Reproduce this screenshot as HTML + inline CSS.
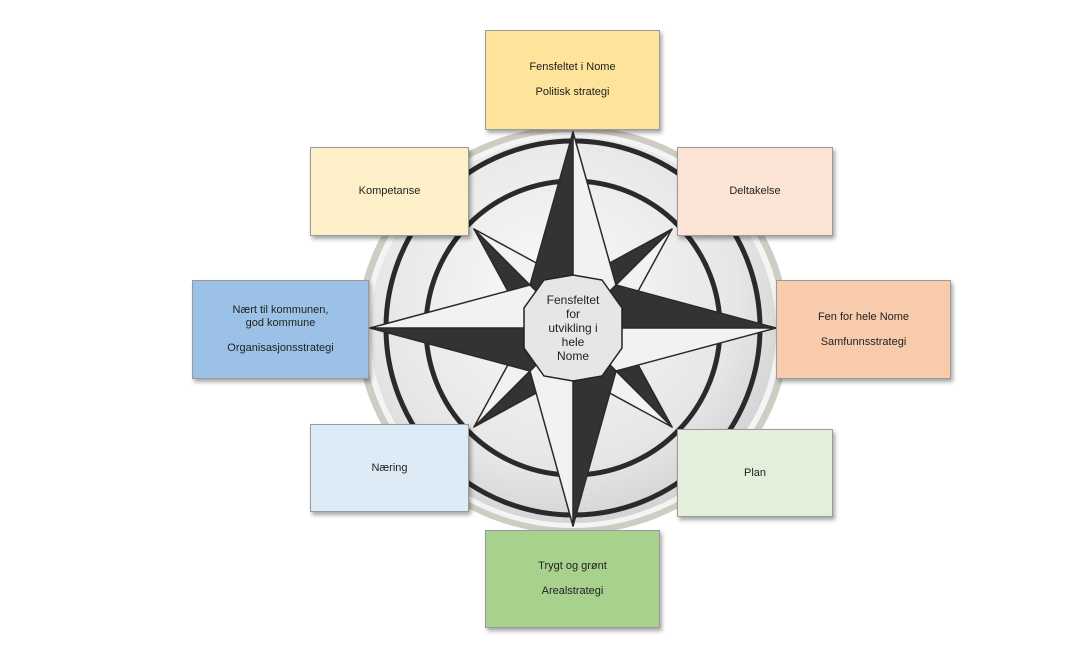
<!DOCTYPE html>
<html><head><meta charset="utf-8"><style>
body{margin:0;background:#fff;width:1082px;height:652px;overflow:hidden;position:relative;font-family:"Liberation Sans",sans-serif}
.b{position:absolute;box-sizing:border-box;border:1px solid #9a9a9a;box-shadow:2px 3px 4px rgba(0,0,0,.35);display:flex;flex-direction:column;align-items:center;justify-content:center;text-align:center;font-size:11px;color:#222;line-height:13px}
.b p{margin:0}
</style></head><body>
<svg width="1082" height="652" style="position:absolute;left:0;top:0">
<defs>
<radialGradient id="g" cx="45%" cy="40%" r="65%"><stop offset="0" stop-color="#fafafa"/><stop offset=".7" stop-color="#e6e6e6"/><stop offset="1" stop-color="#cfcfcf"/></radialGradient>
</defs>
<ellipse cx="573" cy="330" rx="216" ry="204" fill="#cfccc4"/>
<ellipse cx="573" cy="330" rx="209" ry="198" fill="#f4f4f4"/>
<ellipse cx="573" cy="330" rx="203" ry="193" fill="url(#g)"/>
<circle cx="573" cy="328" r="187" fill="none" stroke="#2a2a2a" stroke-width="5"/>
<circle cx="573" cy="328" r="147" fill="none" stroke="#2a2a2a" stroke-width="5"/>
<g stroke="#2a2a2a" stroke-width="1.5" stroke-linejoin="round">
<polygon points="672,229 573,328 573,283" fill="#333"/><polygon points="672,229 573,328 618,328" fill="#f2f2f2"/>
<polygon points="672,427 573,328 618,328" fill="#333"/><polygon points="672,427 573,328 573,373" fill="#f2f2f2"/>
<polygon points="474,427 573,328 573,373" fill="#333"/><polygon points="474,427 573,328 528,328" fill="#f2f2f2"/>
<polygon points="474,229 573,328 528,328" fill="#333"/><polygon points="474,229 573,328 573,283" fill="#f2f2f2"/>
<polygon points="573,132 573,328 530,285" fill="#333"/><polygon points="573,132 573,328 616,285" fill="#f2f2f2"/>
<polygon points="776,328 573,328 616,285" fill="#333"/><polygon points="776,328 573,328 616,371" fill="#f2f2f2"/>
<polygon points="573,526 573,328 616,371" fill="#333"/><polygon points="573,526 573,328 530,371" fill="#f2f2f2"/>
<polygon points="370,328 573,328 530,371" fill="#333"/><polygon points="370,328 573,328 530,285" fill="#f2f2f2"/>
</g>
<polygon points="622,308 602,280 573,275 544,280 524,308 524,348 544,376 573,381 602,376 622,348" fill="#e6e6e6" stroke="#222" stroke-width="1.5"/>
<text x="573" y="304" font-size="12" text-anchor="middle" fill="#222" font-family="Liberation Sans,sans-serif"><tspan x="573">Fensfeltet</tspan><tspan x="573" dy="14">for</tspan><tspan x="573" dy="14">utvikling i</tspan><tspan x="573" dy="14">hele</tspan><tspan x="573" dy="14">Nome</tspan></text>
</svg>
<div class="b" style="left:485px;top:30px;width:175px;height:100px;background:#fde49a"><p>Fensfeltet i Nome</p><p style="margin-top:12px">Politisk strategi</p></div>
<div class="b" style="left:310px;top:147px;width:159px;height:89px;background:#fdf0c9">Kompetanse</div>
<div class="b" style="left:677px;top:147px;width:156px;height:89px;background:#fbe3d5">Deltakelse</div>
<div class="b" style="left:192px;top:280px;width:177px;height:99px;background:#9bc2e6"><p>Nært til kommunen,<br>god kommune</p><p style="margin-top:12px">Organisasjonsstrategi</p></div>
<div class="b" style="left:776px;top:280px;width:175px;height:99px;background:#f8cbad"><p>Fen for hele Nome</p><p style="margin-top:12px">Samfunnsstrategi</p></div>
<div class="b" style="left:310px;top:424px;width:159px;height:88px;background:#ddebf7">Næring</div>
<div class="b" style="left:677px;top:429px;width:156px;height:88px;background:#e2efda">Plan</div>
<div class="b" style="left:485px;top:530px;width:175px;height:98px;background:#a9d18e"><p>Trygt og grønt</p><p style="margin-top:12px">Arealstrategi</p></div>
</body></html>
